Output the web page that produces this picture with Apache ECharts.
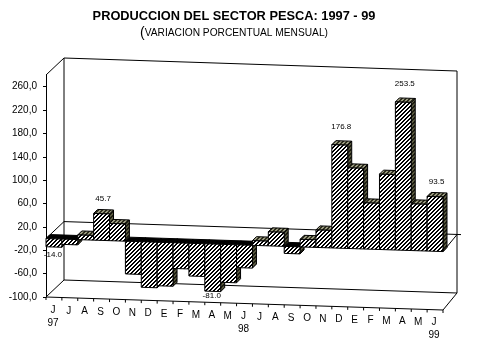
<!DOCTYPE html>
<html>
<head>
<meta charset="utf-8">
<style>
  html, body { margin: 0; padding: 0; background: #fff; }
  #chart { width: 479px; height: 359px; }
</style>
<script src="https://cdn.jsdelivr.net/npm/echarts@6/dist/echarts.min.js"></script>
</head>
<body>
<div id="chart"></div>
<script>
const months = ["J","J","A","S","O","N","D","E","F","M","A","M","J","J","A","S","O","N","D","E","F","M","A","M","J"];
const yearNames = { 0: "97", 12: "98", 24: "99" };
const variation = [-14.0,-9,8,45.7,29.5,-56,-78,-74.5,-44,-56,-81.0,-65,-39,8,24,-12,13,30,176.8,138,79,129,253.5,80,93.5];
const labelled = [0,3,10,18,22,24];
const yTicks = [-100,-60,-20,20,60,100,140,180,220,260];

// fake 3D: everything is sheared down to the right and pushed back by a depth offset
const SHEAR = 0.52;
const BAR_DX = 4, BAR_DY = 4;
const FONT = '"Liberation Sans", Arial, sans-serif';

function hatch(bg, fg, size) {
  const c = document.createElement("canvas");
  c.width = c.height = size;
  const ctx = c.getContext("2d");
  ctx.fillStyle = bg;
  ctx.fillRect(0, 0, size, size);
  ctx.fillStyle = fg;
  for (let i = 0; i < size; i++) {
    ctx.fillRect((size - 1 - i + size) % size, i, 1, 1);
    ctx.fillRect((size - i) % size, i, 1, 1);
  }
  return { image: c, repeat: "repeat" };
}
const frontFill = hatch("#fff", "#000", 4);
const topFill = hatch("#9a9a80", "#2c2c1c", 4);
const sideFill = hatch("#5a5a40", "#1c1c12", 4);

function project(api, t, v) {
  const w = api.size([1, 0])[0];
  const p = api.coord([0, v]);
  return [p[0] - w / 2 + t * w, p[1] + SHEAR * t];
}

function poly(points, fill) {
  return { type: "polygon", shape: { points }, style: { fill, stroke: "#000", lineWidth: 1 } };
}
function seg(a, b) {
  return { type: "line", shape: { x1: a[0], y1: a[1], x2: b[0], y2: b[1] }, style: { stroke: "#000", lineWidth: 1 }, silent: true };
}
function txt(x, y, text, size) {
  return { type: "text", x, y, style: { text, fill: "#000", font: size + "px " + FONT, align: "center", verticalAlign: "middle" } };
}

function renderFrame(params, api) {
  const back = (p, t) => [p[0] + 18 - 4 * t / 25, p[1] - 17];
  const top = 280, floor = -100;
  const children = [
    seg(back(project(api, 0, top), 0), back(project(api, 25, top), 25)),
    seg(project(api, 0, top), back(project(api, 0, top), 0)),
    seg(back(project(api, 0, top), 0), back(project(api, 0, floor), 0)),
    seg(back(project(api, 25, top), 25), back(project(api, 25, floor), 25)),
    seg(back(project(api, 0, floor), 0), back(project(api, 25, floor), 25)),
    seg(project(api, 0, floor), back(project(api, 0, floor), 0)),
    seg(project(api, 25, floor), back(project(api, 25, floor), 25)),
    seg(project(api, 0, floor), project(api, 25, floor)),
    seg(project(api, 0, 0), back(project(api, 0, 0), 0)),
    seg(back(project(api, 0, 0), 0), [back(project(api, 25, 0), 25)[0] + 4, back(project(api, 25, 0), 25)[1]]),
    seg(project(api, 25, 0), back(project(api, 25, 0), 25))
  ];
  for (let t = 0; t <= 25; t++) {
    const p = project(api, t, floor);
    children.push(seg(p, [p[0], p[1] + 3]));
  }
  return { type: "group", children };
}

function renderBar(params, api) {
  const i = api.value(0), v = api.value(1);
  const a0 = project(api, i, 0), a1 = project(api, i + 1, 0);
  const b0 = project(api, i, v), b1 = project(api, i + 1, v);
  const up = p => [p[0] + BAR_DX, p[1] - BAR_DY];
  const hi0 = v >= 0 ? b0 : a0, hi1 = v >= 0 ? b1 : a1;
  const lo1 = v >= 0 ? a1 : b1;
  const children = [
    poly([hi1, up(hi1), up(lo1), lo1], sideFill),
    poly([hi0, up(hi0), up(hi1), hi1], v >= 0 ? topFill : "#000"),
    poly([a0, b0, b1, a1], frontFill)
  ];
  return { type: "group", children };
}

function renderMonth(params, api) {
  const i = api.value(0);
  const p = project(api, i + 0.5, -100);
  const children = [txt(p[0] - 1, p[1] + 13, months[i], 10)];
  if (yearNames[i]) children.push(txt(p[0] - 1, p[1] + 26, yearNames[i], 10));
  return { type: "group", children };
}

function renderValue(params, api) {
  const i = api.value(0), v = api.value(1);
  const p = project(api, i + 0.5, v);
  const dy = v > 100 ? -18 : v > 0 ? -15 : v < -50 ? 4 : 8;
  return txt(p[0] + (v >= 0 ? 1.5 : -1), p[1] + dy, v.toFixed(1), 8);
}

const chart = echarts.init(document.getElementById("chart"));
chart.setOption({
  animation: false,
  title: {
    text: "PRODUCCION DEL SECTOR PESCA: 1997 - 99",
    subtext: "{p|(}{s|VARIACION PORCENTUAL MENSUAL)}",
    left: 229,
    textAlign: "center",
    top: 5,
    itemGap: 3,
    textStyle: { fontFamily: FONT, fontSize: 12.8, fontWeight: "bold", color: "#000" },
    subtextStyle: {
      fontFamily: FONT, color: "#000",
      rich: {
        p: { fontSize: 14, fontFamily: FONT, color: "#000" },
        s: { fontSize: 10.2, fontFamily: FONT, color: "#000" }
      }
    }
  },
  grid: { left: 46, top: 75, width: 397, height: 222 },
  xAxis: { type: "category", data: months, show: false },
  yAxis: {
    type: "value",
    min: -100,
    max: 280,
    splitLine: { show: false },
    axisLine: { show: true, lineStyle: { color: "#000" } },
    axisTick: { show: true, length: 3, lineStyle: { color: "#000" }, customValues: yTicks },
    axisLabel: {
      color: "#000", fontFamily: FONT, fontSize: 10, margin: 9,
      customValues: yTicks,
      formatter: v => v.toFixed(1).replace(".", ",")
    }
  },
  series: [
    { type: "custom", data: [[0, 0]], renderItem: renderFrame, silent: true, z: 1 },
    { type: "custom", data: variation.map((v, i) => [i, v]), renderItem: renderBar, silent: true, z: 2 },
    { type: "custom", data: months.map((m, i) => [i, -100]), renderItem: renderMonth, silent: true, z: 3 },
    { type: "custom", data: labelled.map(i => [i, variation[i]]), renderItem: renderValue, silent: true, z: 4 }
  ]
});
</script>
</body>
</html>
